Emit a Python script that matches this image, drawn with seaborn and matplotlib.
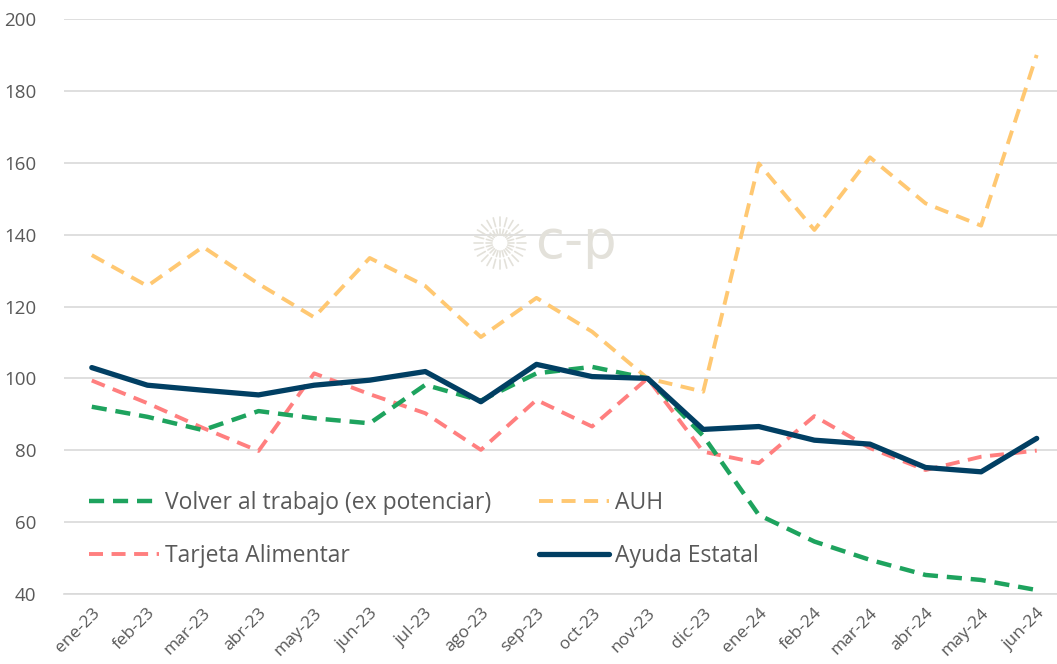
import numpy as np
import pandas as pd
import seaborn as sns
import matplotlib.pyplot as plt

# --- data ---
months = ['ene-23', 'feb-23', 'mar-23', 'abr-23', 'may-23', 'jun-23', 'jul-23', 'ago-23',
          'sep-23', 'oct-23', 'nov-23', 'dic-23', 'ene-24', 'feb-24', 'mar-24', 'abr-24',
          'may-24', 'jun-24']
volver = [92.1, 89.3, 85.6, 90.9, 88.9, 87.5, 98.2, 93.8, 101.4, 103.2, 100.0, 84.0,
          62.0, 54.6, 49.5, 45.3, 43.9, 41.1]
auh = [134.3, 125.7, 136.6, 126.3, 117.0, 133.5, 125.7, 111.5, 122.4, 113.0, 100.0, 96.3,
       159.8, 141.3, 161.5, 148.7, 142.5, 190.0]
tarjeta = [99.4, 93.1, 86.2, 79.8, 101.4, 95.6, 90.3, 80.1, 94.0, 86.6, 100.0, 79.6,
           76.4, 89.5, 80.6, 74.5, 78.2, 79.9]
ayuda = [103.0, 98.1, 96.7, 95.4, 98.1, 99.5, 101.9, 93.5, 103.9, 100.5, 100.0, 85.8,
         86.6, 82.8, 81.7, 75.2, 74.0, 83.3]

df = pd.DataFrame({'pos': np.arange(len(months)), 'mes': months,
                   'volver': volver, 'auh': auh, 'tarjeta': tarjeta, 'ayuda': ayuda})

sns.set_theme(style="white")
plt.rcParams['font.family'] = ['Open Sans', 'DejaVu Sans']

W, H = 1057, 664
fig = plt.figure(figsize=(W / 100, H / 100), dpi=100)
ax = fig.add_axes([64 / W, 70 / H, 1000.5 / W, 575 / H])

# watermark (behind everything)
cx, cy = 500 / W, 1 - 243 / H
for ang in np.linspace(0, 2 * np.pi, 24, endpoint=False):
    for r0, r1 in [(8, 14), (17, 26)]:
        fig.lines.append(plt.Line2D(
            [cx + r0 * np.cos(ang) / W, cx + r1 * np.cos(ang) / W],
            [cy + r0 * np.sin(ang) / H, cy + r1 * np.sin(ang) / H],
            transform=fig.transFigure, color='#E3E1DA', lw=1.2, zorder=0))
fig.text(535 / W, cy, 'c-p', fontsize=38, color='#E3E1DA', va='center', ha='left',
         family=['DejaVu Sans'], zorder=0)

sns.lineplot(data=df, x='pos', y='auh', ax=ax, color='#FFC872', lw=2.8,
             label='AUH', zorder=3).lines[-1].set_dashes((3.6, 2.2))
sns.lineplot(data=df, x='pos', y='tarjeta', ax=ax, color='#FF7F7F', lw=2.8,
             label='Tarjeta Alimentar', zorder=3).lines[-1].set_dashes((3.6, 2.2))
sns.lineplot(data=df, x='pos', y='volver', ax=ax, color='#1EA35E', lw=3.2,
             label='Volver al trabajo (ex potenciar)', zorder=4).lines[-1].set_dashes((3.4, 2.0))
sns.lineplot(data=df, x='pos', y='ayuda', ax=ax, color='#013F63', lw=3.8,
             label='Ayuda Estatal', zorder=5)

ax.set_xlim(-0.5, len(months) - 0.5)
ax.set_ylim(40, 200)
ax.set_yticks(range(40, 201, 20))
ax.set_xticks(df['pos'])
ax.set_xticklabels(months, rotation=45, ha='right', rotation_mode='anchor')
ax.set_xticks(np.arange(-0.5, len(months), 1), minor=True)
ax.tick_params(axis='x', which='major', length=0, pad=8, labelsize=12.5, labelcolor='#595959')
ax.tick_params(axis='x', which='minor', length=5, width=1.2, color='#D9D9D9', direction='out')
ax.tick_params(axis='y', length=0, pad=20, labelsize=13.5, labelcolor='#595959')
ax.yaxis.grid(True, color='#D9D9D9', lw=1.2)
ax.set_axisbelow(True)
for s in ['left', 'right', 'top']:
    ax.spines[s].set_visible(False)
ax.spines['bottom'].set_color('#D9D9D9')
ax.spines['bottom'].set_linewidth(1.2)
ax.set_xlabel('')
ax.set_ylabel('')
ax.patch.set_alpha(0)

handles, labels = ax.get_legend_handles_labels()
order = [labels.index(l) for l in ['Volver al trabajo (ex potenciar)', 'Tarjeta Alimentar',
                                   'AUH', 'Ayuda Estatal']]
leg = ax.legend([handles[i] for i in order], [labels[i] for i in order], ncol=2,
                loc='upper left', bbox_to_anchor=(68 / W, 1 - 470 / H),
                bbox_transform=fig.transFigure, frameon=False, fontsize=16.5,
                handlelength=3.05, handletextpad=0.3, columnspacing=2.05, labelspacing=1.3)
for t in leg.get_texts():
    t.set_color('#595959')

fig.savefig('out.png', dpi=100)
